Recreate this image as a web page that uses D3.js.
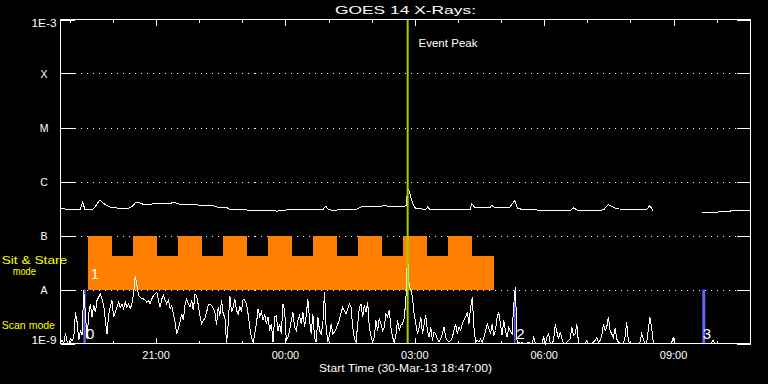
<!DOCTYPE html>
<html><head><meta charset="utf-8">
<script src="https://cdn.jsdelivr.net/npm/d3@7"></script>
<style>html,body{margin:0;padding:0;background:#000;} svg{display:block;}</style>
</head><body><svg id="c" width="768" height="384"></svg>
<script>
// ---------------- DATA ----------------
const titleText = "GOES 14 X-Rays:";
const xTitleText = "Start Time (30-Mar-13 18:47:00)";
const startTime = "18:47";
const endTime = "10:47";
const xMajorTickLabels = ["21:00", "00:00", "03:00", "06:00", "09:00"];
const yTickValues = [1e-9, 1e-8, 1e-7, 1e-6, 1e-5, 1e-4, 1e-3];
const yTickLabels = ["1E-9", "A", "B", "C", "M", "X", "1E-3"];

// GOES long channel (1-8 A), in units of 1e-9 W/m^2 ; null = data gap
const longTimes = ["18:47","18:53","18:57","19:14","19:18","19:21","19:31","19:35","19:38","19:42",
  "19:46","19:52","19:56","20:00","20:20","20:24","20:28","20:32","20:38","20:43",
  "20:52","20:56","21:19","21:24","21:29","21:33","21:56","22:01","22:19","22:25",
  "22:39","22:43","23:04","23:11","23:43","23:48","00:06","00:13","00:52","00:56",
  "00:59","01:05","01:16","01:37","01:44","01:48","02:11","02:18","02:25","02:45",
  "02:48","02:50","02:53","02:55","02:57","03:01","03:07","03:15","03:18","03:21",
  "04:17","04:19","04:24","04:44","04:47","04:51","05:12","05:19","05:23","05:33",
  "05:47","05:54","06:36","06:41","06:47","07:18","07:23","07:29","07:34","07:41",
  "07:59","08:22","08:27","08:31","08:35","09:40","09:58","10:12","10:26","10:46"];
const longValues = [312,312,300,300,414,300,300,334,386,458,
  397,359,334,326,316,326,359,414,397,375,
  375,386,386,414,397,375,375,359,359,334,
  326,303,300,290,290,282,303,300,300,351,
  312,290,300,300,334,344,344,359,344,344,
  359,764,599,484,391,316,316,300,344,300,
  300,391,326,326,359,334,334,445,316,300,
  300,290,290,326,290,290,303,375,344,312,
  300,300,359,290,null,264,270,278,290,290];

// GOES short channel (0.5-4 A), in units of 1e-9 W/m^2, regular cadence from startTime
const shortStepMinutes = 2.31;
const shortValues = [
  1.06,1.14,1.0,1.55,1.06,1.0,1.22,1.14,1.31,3.8,
  2.5,1.14,1.74,1.41,9.9,3.5,1.22,3.5,5.4,3.1,
  5.1,3.8,6.3,7.2,8.3,6.7,5.1,2.7,1.51,3.5,
  4.7,6.3,3.1,3.8,4.7,5.8,4.7,5.4,4.4,5.8,
  4.7,5.4,4.4,5.4,8.3,18,11.9,7.7,7.2,6.7,
  6.7,6.3,5.8,6.3,5.4,6.7,7.7,8.3,8.9,6.3,
  4.7,6.7,7.7,6.3,5.4,6.3,4.4,5.1,3.5,2.5,
  1.51,
  1.9,2.5,3.5,2.7,5.1,6.7,5.4,4.7,6.3,4.1,
  8.3,7.7,5.1,3.3,2.3,2.7,2.9,3.8,5.1,5.4,
  5.1,4.4,3.8,2.2,4.7,3.3,6.3,3.5,3.1,1.0,
  2.3,7.7,3.8,4.7,6.7,4.1,3.5,4.7,4.1,6.7,
  6.3,5.4,3.5,2.0,1.31,1.06,1.51,2.3,4.4,3.1,
  3.8,2.7,3.5,2.3,3.1,1.74,2.3,1.06,3.1,3.3,
  1.74,2.3,1.51,5.4,4.1,1.14,1.31,1.74,2.7,3.8,
  2.0,
  1.74,2.7,3.3,2.3,3.8,2.0,3.3,6.7,2.7,1.51,
  3.5,1.31,1.06,3.1,1.74,1.51,2.3,8.9,2.0,1.06,
  1.41,2.3,1.51,1.62,1.9,2.3,2.7,3.8,4.7,4.1,
  3.5,4.4,5.4,4.7,2.0,1.22,1.06,2.3,4.7,5.4,
  3.1,5.1,3.8,5.8,2.0,1.41,1.06,1.31,2.7,1.74,
  2.9,2.3,1.74,2.0,3.5,3.1,4.1,2.0,1.31,1.06,
  1.41,2.7,1.74,2.2,2.3,2.9,6.3,44,11.9,9.6,
  7.2,
  3.5,2.3,1.51,2.0,3.1,1.51,2.3,3.3,1.74,1.31,
  2.0,1.14,1.62,1.51,1.22,1.06,1.22,1.51,2.0,1.31,
  1.14,1.06,1.14,1.31,1.74,2.3,1.51,2.0,1.74,2.3,
  2.7,3.1,3.8,2.3,4.7,7.2,2.0,1.06,1.14,1.06,
  1.22,1.06,1.31,1.74,2.3,1.9,1.51,2.3,1.41,1.74,
  3.1,3.8,2.3,1.41,2.7,1.74,1.31,2.0,1.74,1.51,
  5.4,11,1.06,1.06,1.0,1.06,1.0,1.0,1.0,1.06,
  1.0,
  1.0,1.31,1.0,1.0,1.0,1.0,1.0,1.31,1.0,1.31,
  1.51,1.0,1.0,1.14,2.3,1.62,1.22,1.62,1.22,1.0,
  1.0,1.06,1.14,1.22,2.0,1.41,1.51,2.3,1.0,1.0,
  1.0,1.0,1.0,1.14,1.0,1.0,1.0,1.06,1.14,1.31,
  1.06,1.14,1.41,2.3,1.74,2.0,3.1,1.74,1.51,1.31,
  1.9,1.22,1.06,1.0,1.0,1.0,1.31,2.5,1.14,1.0,
  1.0,1.0,1.0,1.0,1.0,1.06,1.51,1.22,1.0,1.0,
  1.74,3.1,
  2.0,1.06,1.0,1.0,1.0,1.0,1.0,1.0,1.0,1.0,
  1.0,1.0,1.0,1.31,1.0,1.0,1.0,1.0,1.0,1.0,
  1.0,1.0,1.0,1.0,1.0,1.0,1.0,1.0,1.0,1.0,
  1.0,1.0,1.0,1.0,1.0,1.0,1.0,1.14,1.0,1.0,
  1.0,1.0,1.0,1.0,1.0,1.0,1.0,1.0,1.0,1.0,
  1.0,1.0,1.0,1.0,1.0,1.0,1.0,1.0,1.0,1.0];

// Observing modes
const sitStareStart = "19:25";
const sitStareEnd = "04:50";
const sitStareBlockStarts = ["19:25","20:28","21:31","22:33","23:36","00:38","01:41","02:44","03:46"];
const sitStareBlockEnds   = ["19:58","21:01","22:04","23:06","00:09","01:11","02:14","03:17","04:19"];
const sitStareLevels = [1e-8, 4.1e-8, 1e-7]; // base bottom, base top, block top (W/m^2)
const scanStarts = ["19:19","05:18","09:40"];
const scanEnds   = ["19:22","05:20","09:44"];
const scanLevels = [1e-9, 1e-8];
const eventLabels = ["0","1","2","3"];
const eventPeakTime = "02:50";
const eventPeakText = "Event Peak";
const modeLabels = ["Sit & Stare", "mode", "Scan mode"];

// ---------------- CHART ----------------
function hm(s) {
  const [h, m] = s.split(":").map(Number);
  return new Date(2013, 2, h >= 18 ? 30 : 31, h, m);
}
const W = 768, H = 384;
const L = 60.5, R = 750.5, T = 19.5, B = 343.5;
const svg = d3.select("#c");
svg.append("rect").attr("width", W).attr("height", H).attr("fill", "#000");

const x = d3.scaleTime().domain([hm(startTime), hm(endTime)]).range([L, R]);
const y = d3.scaleLog().domain([1e-9, 1e-3]).range([B, T]).clamp(true);
const FONT = "'Liberation Sans', Arial, sans-serif";
const WHITE = "#ffffff";

function txt(g, s, px, py, size, anchor, len, color) {
  const t = g.append("text").attr("x", px).attr("y", py).text(s)
    .attr("fill", color || WHITE).attr("font-family", FONT).attr("font-size", size)
    .attr("text-anchor", anchor || "start");
  if (len) t.attr("textLength", len).attr("lengthAdjust", "spacingAndGlyphs");
  return t;
}

// gridlines + y ticks
const grid = svg.append("g");
yTickValues.forEach((v, i) => {
  const yy = Math.round(y(v)) + 0.5;
  if (i > 0 && i < yTickValues.length - 1) {
    grid.append("line").attr("x1", L + 14).attr("x2", R - 14).attr("y1", yy).attr("y2", yy)
      .attr("stroke", WHITE).attr("stroke-width", 1).attr("stroke-dasharray", "1,5")
      .attr("shape-rendering", "crispEdges");
  }
  grid.append("line").attr("x1", L).attr("x2", L + 14).attr("y1", yy).attr("y2", yy)
    .attr("stroke", WHITE).attr("shape-rendering", "crispEdges");
  grid.append("line").attr("x1", R - 14).attr("x2", R).attr("y1", yy).attr("y2", yy)
    .attr("stroke", WHITE).attr("shape-rendering", "crispEdges");
});

// sit & stare region
const ss = svg.append("g").attr("fill", "#ff8000").attr("shape-rendering", "crispEdges");
ss.append("rect").attr("x", x(hm(sitStareStart))).attr("width", x(hm(sitStareEnd)) - x(hm(sitStareStart)))
  .attr("y", y(sitStareLevels[1])).attr("height", y(sitStareLevels[0]) - y(sitStareLevels[1]));
sitStareBlockStarts.forEach((s, i) => {
  ss.append("rect").attr("x", x(hm(s))).attr("width", x(hm(sitStareBlockEnds[i])) - x(hm(s)))
    .attr("y", y(sitStareLevels[2])).attr("height", y(sitStareLevels[1]) - y(sitStareLevels[2]) + 1);
});

// scan mode bars
scanStarts.forEach((s, i) => {
  svg.append("rect").attr("x", x(hm(s))).attr("width", Math.max(1.5, x(hm(scanEnds[i])) - x(hm(s))))
    .attr("y", y(scanLevels[1])).attr("height", y(scanLevels[0]) - y(scanLevels[1]))
    .attr("fill", "#6464ff");
});

// short channel
const t0 = hm(startTime).getTime();
const shortData = shortValues.map((v, i) => ({ t: new Date(t0 + i * shortStepMinutes * 60000), v: v * 1e-9 }));
const line = d3.line().x(d => x(d.t)).y(d => y(d.v)).defined(d => d.v != null);
svg.append("path").datum(shortData.filter(d => d.t <= hm(endTime))).attr("d", line)
  .attr("fill", "none").attr("stroke", WHITE).attr("stroke-width", 1)
  .attr("shape-rendering", "crispEdges");

// long channel
const longData = longTimes.map((s, i) => ({ t: hm(s), v: longValues[i] == null ? null : longValues[i] * 1e-9 }));
svg.append("path").datum(longData).attr("d", line)
  .attr("fill", "none").attr("stroke", WHITE).attr("stroke-width", 1)
  .attr("shape-rendering", "crispEdges");

// event peak line
const ex = x(hm(eventPeakTime));
svg.append("line").attr("x1", ex).attr("x2", ex).attr("y1", T).attr("y2", B)
  .attr("stroke", "#a0d200").attr("stroke-width", 2);
txt(svg, eventPeakText, 418.5, 46.5, 11.5, "start", 59);

// axes box
svg.append("rect").attr("x", L).attr("y", T).attr("width", R - L).attr("height", B - T)
  .attr("fill", "none").attr("stroke", WHITE).attr("stroke-width", 1).attr("shape-rendering", "crispEdges");

// x ticks (hourly minor, 3-hourly major) on top and bottom
const majorSet = new Set(xMajorTickLabels);
const fmt = d3.timeFormat("%H:%M");
x.ticks(d3.timeHour.every(1)).forEach(d => {
  const xx = Math.round(x(d)) + 0.5;
  const len = majorSet.has(fmt(d)) ? 6 : 3;
  svg.append("line").attr("x1", xx).attr("x2", xx).attr("y1", T).attr("y2", T + len)
    .attr("stroke", WHITE).attr("shape-rendering", "crispEdges");
  svg.append("line").attr("x1", xx).attr("x2", xx).attr("y1", B).attr("y2", B - len)
    .attr("stroke", WHITE).attr("shape-rendering", "crispEdges");
});
xMajorTickLabels.forEach(s => {
  txt(svg, s, x(hm(s)), 358.5, 10.5, "middle", 27.5);
});

// y labels
yTickValues.forEach((v, i) => {
  const lab = yTickLabels[i];
  let by = y(v) + 4;
  if (i === yTickValues.length - 1) by = T + 7.5;
  if (i === 0) by = B;
  txt(svg, lab, 44, by, 10.5, "middle", lab.length > 1 ? 25 : null);
});

// titles
txt(svg, titleText, (L + R) / 2, 13.5, 11.5, "middle", 141);
txt(svg, xTitleText, (L + R) / 2, 371.5, 10.5, "middle", 173);

// mode labels (yellow)
txt(svg, modeLabels[0], 1.7, 263.5, 11, "start", 65.5, "#ffff00");
txt(svg, modeLabels[1], 12.7, 275, 11, "start", 23.3, "#ffff00");
txt(svg, modeLabels[2], 1.7, 328.5, 11, "start", 53.3, "#ffff00");

// event number labels
const mid = (a, b) => (x(hm(a)) + x(hm(b))) / 2;
txt(svg, eventLabels[0], mid(scanStarts[0], scanEnds[0]) + 1.5, 339, 15);
txt(svg, eventLabels[1], x(hm(sitStareStart)) + 3, 278.5, 15);
txt(svg, eventLabels[2], mid(scanStarts[1], scanEnds[1]) + 1.5, 339, 15);
txt(svg, eventLabels[3], mid(scanStarts[2], scanEnds[2]) - 1, 339, 15);
</script></body></html>
